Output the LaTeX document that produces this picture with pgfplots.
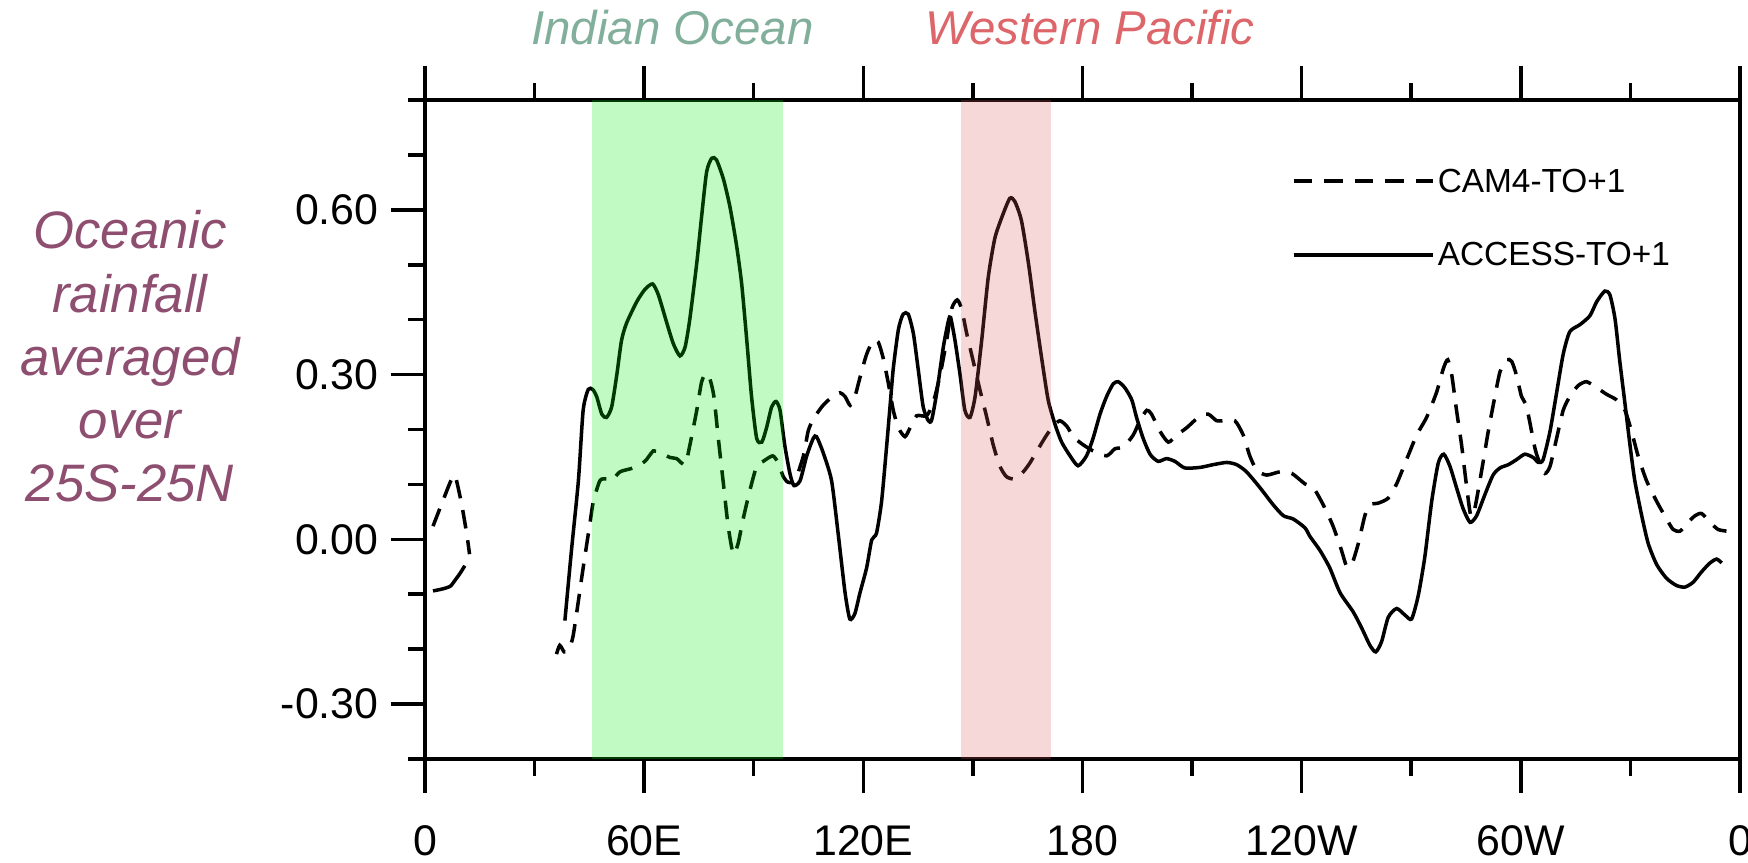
\documentclass[border=0pt]{standalone}
\usepackage{pgfplots}
\usepackage{pgfplotstable}
\pgfplotsset{compat=1.18}
\usepackage{fontspec}
\setmainfont{Liberation Sans}
\definecolor{bandgreen}{RGB}{0,238,8}
\definecolor{bandpink}{RGB}{217,87,87}
\definecolor{iotext}{RGB}{130,175,155}
\definecolor{wptext}{RGB}{220,102,106}
\definecolor{ylabcol}{RGB}{142,78,112}

\pgfplotstableread{
x y
2.2 0.024
5.0 0.072
7.3 0.110
8.3 0.115
10.0 0.065
11.4 0.011
12.2 -0.027
}\camA

\pgfplotstableread{
x y
36.0 -0.209
36.9 -0.193
38.1 -0.205
39.2 -0.202
40.6 -0.174
43.3 -0.052
45.2 0.031
46.1 0.069
47.9 0.107
49.7 0.110
51.1 0.107
53.4 0.123
57.0 0.130
60.2 0.142
62.5 0.161
64.3 0.158
67.1 0.149
68.9 0.147
71.2 0.136
72.5 0.171
74.4 0.235
75.7 0.286
76.9 0.302
78.0 0.292
79.1 0.260
80.3 0.184
81.7 0.101
83.0 0.024
84.4 -0.027
85.7 -0.008
87.1 0.037
88.9 0.088
90.8 0.133
92.6 0.142
95.2 0.152
96.7 0.139
98.1 0.114
99.4 0.104
101.3 0.107
103.6 0.152
104.9 0.197
106.3 0.219
108.6 0.241
110.0 0.251
111.7 0.260
113.6 0.267
115.0 0.260
116.4 0.244
117.7 0.260
119.1 0.295
120.9 0.337
122.7 0.362
124.1 0.359
125.4 0.331
126.8 0.286
128.2 0.235
129.6 0.203
131.4 0.187
132.8 0.203
134.6 0.225
137.3 0.225
139.1 0.248
141.0 0.299
142.8 0.362
144.2 0.420
145.7 0.436
146.9 0.420
148.3 0.375
150.1 0.324
151.9 0.273
153.8 0.222
155.6 0.171
157.4 0.133
159.2 0.114
161.5 0.110
163.8 0.123
165.6 0.139
167.9 0.165
170.2 0.190
172.0 0.206
173.8 0.216
175.7 0.206
177.5 0.187
179.8 0.174
182.9 0.161
186.6 0.152
188.9 0.165
191.2 0.168
193.9 0.190
195.7 0.216
197.6 0.235
198.9 0.228
201.2 0.197
203.5 0.177
205.8 0.190
208.5 0.203
211.7 0.222
214.4 0.228
216.7 0.216
218.5 0.216
221.7 0.216
224.0 0.190
225.8 0.152
227.7 0.126
230.4 0.117
234.1 0.123
237.3 0.120
240.9 0.101
243.2 0.094
245.9 0.063
248.6 0.024
250.9 -0.020
252.3 -0.049
253.7 -0.046
255.5 -0.008
257.3 0.043
258.7 0.063
261.0 0.066
263.7 0.075
266.0 0.101
268.7 0.145
271.5 0.190
274.2 0.222
276.9 0.267
278.8 0.311
280.0 0.327
281.1 0.299
282.4 0.235
283.8 0.171
285.2 0.094
286.3 0.043
287.4 0.056
289.3 0.126
291.1 0.197
292.9 0.260
294.3 0.305
296.1 0.327
297.5 0.324
298.8 0.299
300.2 0.260
301.6 0.241
303.9 0.165
305.2 0.139
306.6 0.120
308.0 0.133
309.8 0.184
311.6 0.235
313.4 0.260
315.7 0.280
318.0 0.287
320.8 0.276
323.5 0.264
326.2 0.254
328.5 0.235
330.3 0.197
332.1 0.152
334.4 0.107
337.2 0.069
339.9 0.037
341.7 0.018
343.6 0.015
345.8 0.031
347.7 0.043
349.5 0.047
351.8 0.031
354.0 0.018
356.3 0.015
}\camB

\pgfplotstableread{
x y
2.2 -0.094
5.0 -0.090
7.0 -0.085
8.5 -0.072
9.6 -0.062
10.9 -0.048
}\accA

\pgfplotstableread{
x y
38.3 -0.148
40.1 -0.020
42.0 0.107
43.3 0.235
44.7 0.273
45.9 0.273
47.0 0.260
48.4 0.228
49.7 0.222
51.1 0.241
52.5 0.299
53.8 0.362
55.2 0.394
58.0 0.433
60.2 0.455
62.3 0.465
63.9 0.445
66.2 0.394
68.0 0.356
69.8 0.334
71.2 0.350
72.5 0.401
74.4 0.503
75.7 0.586
77.1 0.669
78.5 0.694
79.8 0.691
81.7 0.656
83.5 0.605
85.3 0.535
86.7 0.465
88.1 0.362
89.4 0.260
90.8 0.184
92.2 0.177
93.5 0.203
94.9 0.241
96.1 0.251
97.2 0.235
98.5 0.171
99.9 0.120
101.0 0.098
102.7 0.107
104.5 0.152
106.3 0.184
107.2 0.187
109.0 0.158
111.3 0.107
113.1 0.011
115.0 -0.097
116.3 -0.145
117.7 -0.135
119.1 -0.097
120.9 -0.052
122.3 -0.001
123.6 0.011
125.0 0.069
126.4 0.171
127.3 0.241
128.2 0.311
129.6 0.382
130.9 0.410
132.3 0.410
133.7 0.375
135.0 0.311
136.4 0.241
137.8 0.216
138.7 0.217
140.1 0.267
141.9 0.350
143.3 0.398
143.9 0.404
145.1 0.362
146.5 0.299
147.8 0.235
149.2 0.222
150.6 0.260
152.4 0.362
154.2 0.477
156.0 0.548
157.9 0.586
160.1 0.621
161.5 0.615
163.3 0.580
165.2 0.503
167.0 0.414
168.8 0.331
170.6 0.254
172.5 0.209
174.3 0.177
176.6 0.152
178.8 0.134
181.1 0.152
182.9 0.184
184.8 0.228
186.6 0.260
188.4 0.283
189.8 0.287
191.6 0.276
193.5 0.254
194.8 0.222
196.6 0.184
198.5 0.155
200.7 0.142
203.0 0.147
205.3 0.142
208.0 0.130
212.2 0.131
215.8 0.136
219.5 0.140
222.2 0.136
224.9 0.123
228.6 0.094
232.2 0.063
235.0 0.043
237.7 0.037
240.9 0.021
242.3 0.005
245.0 -0.020
247.7 -0.052
250.5 -0.097
254.1 -0.132
256.4 -0.161
258.7 -0.193
260.3 -0.205
261.9 -0.186
263.7 -0.142
266.0 -0.126
268.3 -0.138
270.1 -0.145
271.9 -0.103
273.7 -0.033
275.6 0.069
277.4 0.139
278.9 0.155
280.6 0.133
282.4 0.094
284.2 0.056
286.1 0.031
287.9 0.043
290.2 0.082
292.4 0.117
294.3 0.130
296.6 0.136
298.8 0.145
301.1 0.155
303.4 0.149
304.8 0.140
306.1 0.145
308.0 0.197
309.8 0.267
311.6 0.337
313.4 0.378
316.2 0.391
318.9 0.407
320.8 0.433
323.0 0.452
324.4 0.445
325.8 0.401
327.1 0.324
328.5 0.248
329.9 0.171
331.2 0.107
333.1 0.043
334.9 -0.008
337.2 -0.046
339.9 -0.071
342.6 -0.084
344.9 -0.087
347.2 -0.078
349.5 -0.059
351.8 -0.043
353.6 -0.036
355.0 -0.043
}\accB

\begin{document}
\begin{tikzpicture}
\path[use as bounding box] (-4.25cm,-1.04cm) rectangle (13.23cm,7.59cm);
\begin{axis}[
  at={(0,0)}, anchor=south west,
  width=13.15cm, height=6.59cm, scale only axis,
  clip mode=individual,
  xmin=0, xmax=360, ymin=-0.4, ymax=0.8,
  xtick={0,60,120,180,240,300,360},
  xticklabels={0,60E,120E,180,120W,60W,0},
  minor xtick={30,90,150,210,270,330},
  ytick={-0.3,0,0.3,0.6},
  yticklabels={-0.30,0.00,0.30,0.60},
  minor ytick={-0.4,-0.2,-0.1,0.1,0.2,0.4,0.5,0.7,0.8},
  xtick pos=both, ytick pos=left,
  tick align=outside,
  major tick length=0.34cm, minor tick length=0.17cm,
  every tick/.style={black, line width=1pt},
  axis line style={line width=1.1pt},
  tick label style={font=\fontsize{12.2}{14}\selectfont},
  xticklabel style={yshift=-0.2cm},
  ylabel={Oceanic\\rainfall\\averaged\\over\\25S-25N},
  every axis y label/.style={at={(axis description cs:-0.2243,0.8331)}, anchor=north, align=center, inner sep=0pt, font=\fontsize{15}{18}\selectfont\itshape, text=ylabcol},
  legend style={at={(axis description cs:0.6586,0.8968)}, anchor=north west, draw=none, fill=none, inner sep=0pt, row sep=12.9pt, font=\fontsize{9.5}{11}\selectfont, nodes={inner sep=0pt}, /tikz/every odd column/.append style={column sep=1pt}},
  legend cell align=left,
  legend image code/.code={\draw[#1] (0cm,0.6pt) -- (1.39cm,0.6pt);},
]
\addplot[black, line width=1pt, smooth, tension=0.4, dash pattern=on 5.3pt off 3.4pt] table {\camB};
\addlegendentry{CAM4-TO+1}
\addplot[black, line width=1pt, smooth, tension=0.4] table {\accB};
\addlegendentry{ACCESS-TO+1}
\addplot[black, line width=1pt, smooth, tension=0.4, dash pattern=on 5.3pt off 3.4pt, forget plot] table {\camA};
\addplot[black, line width=1pt, smooth, tension=0.4, forget plot] table {\accA};
\addplot[draw=none, fill=bandgreen, fill opacity=0.243, forget plot] coordinates {(45.7,-0.4) (98.0,-0.4) (98.0,0.8) (45.7,0.8)} -- cycle;
\addplot[draw=none, fill=bandpink, fill opacity=0.23, forget plot] coordinates {(146.7,-0.4) (171.5,-0.4) (171.5,0.8) (146.7,0.8)} -- cycle;
\node[anchor=base, inner sep=0pt, font=\fontsize{13.5}{16}\selectfont\itshape, text=iotext] at (axis description cs:0.1882,1.0835) {Indian Ocean};
\node[anchor=base, inner sep=0pt, font=\fontsize{13.5}{16}\selectfont\itshape, text=wptext] at (axis description cs:0.5057,1.0835) {Western Pacific};
\end{axis}
\end{tikzpicture}
\end{document}
